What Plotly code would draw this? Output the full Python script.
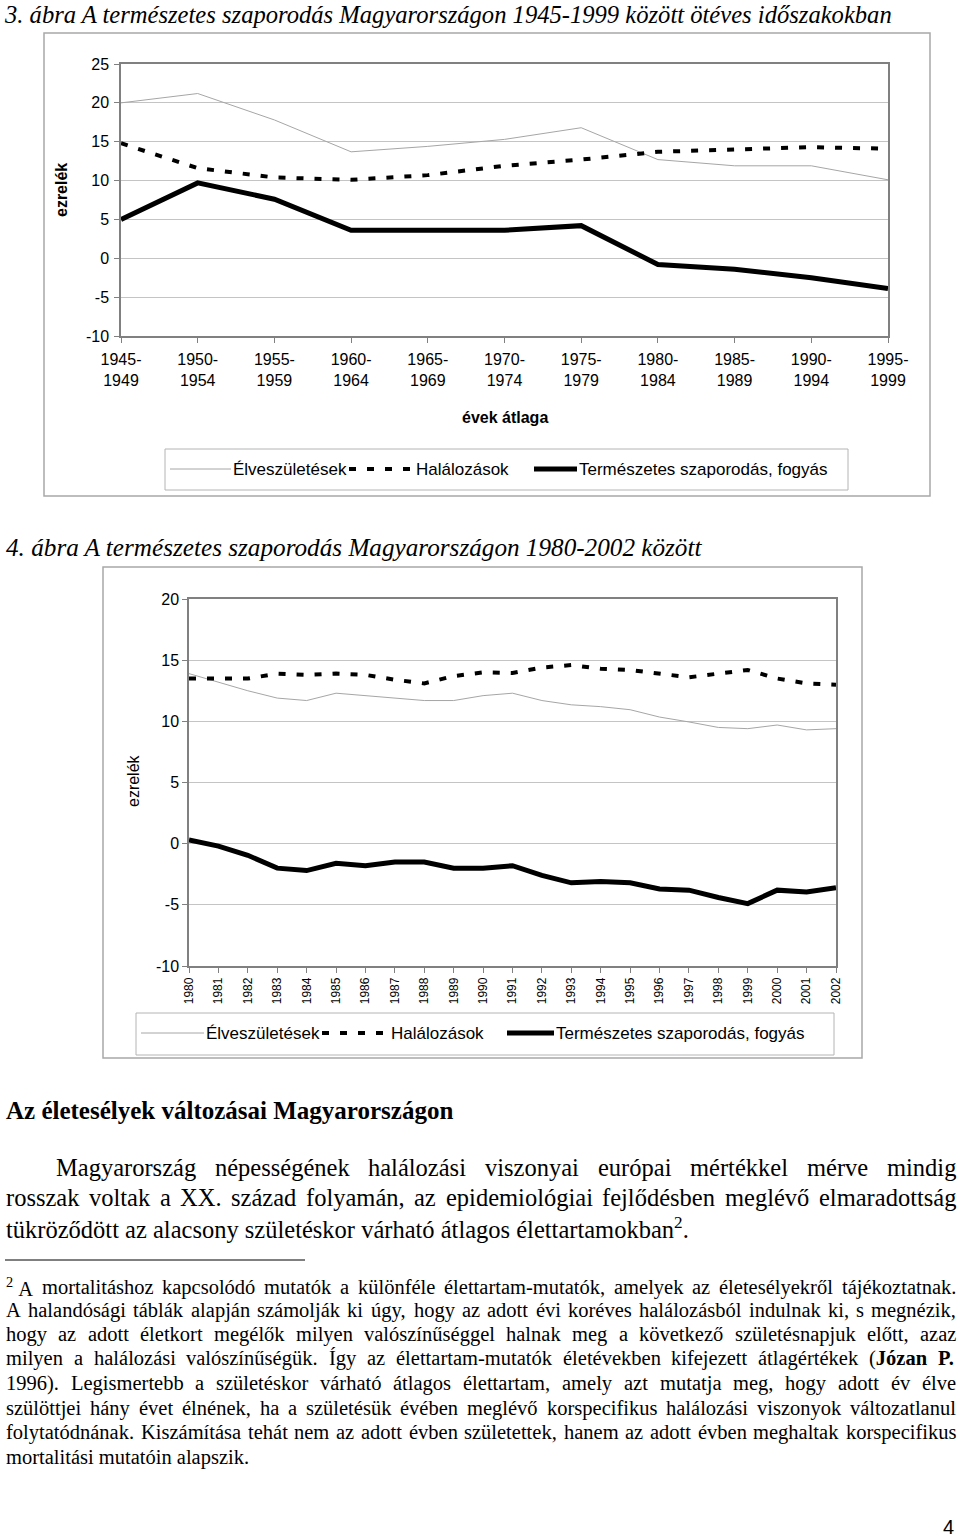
import re
import plotly.graph_objects as go

W, H = 960, 1537


def px(x):
    return x / W


def py(y):
    return 1 - y / H


# ---------------- data: chart 1 (five-year averages) ----------------
periods = ["1945-1949", "1950-1954", "1955-1959", "1960-1964", "1965-1969",
           "1970-1974", "1975-1979", "1980-1984", "1985-1989", "1990-1994",
           "1995-1999"]
births_5y = [20.0, 21.2, 17.8, 13.7, 14.4, 15.3, 16.8, 12.7, 11.9, 11.9, 10.1]
deaths_5y = [14.8, 11.6, 10.4, 10.1, 10.7, 11.9, 12.7, 13.7, 14.0, 14.3, 14.1]
natural_5y = [5.0, 9.7, 7.6, 3.6, 3.6, 3.6, 4.2, -0.8, -1.4, -2.5, -3.9]
yticks1 = [-10, -5, 0, 5, 10, 15, 20, 25]

# ---------------- data: chart 2 (yearly) ----------------
years = [1980, 1981, 1982, 1983, 1984, 1985, 1986, 1987, 1988, 1989, 1990,
         1991, 1992, 1993, 1994, 1995, 1996, 1997, 1998, 1999, 2000, 2001, 2002]
births_y = [13.9, 13.2, 12.5, 11.9, 11.7, 12.3, 12.1, 11.85, 11.7, 11.7, 12.1,
            12.3, 11.7, 11.35, 11.2, 10.95, 10.35, 9.95, 9.5, 9.4, 9.7, 9.3, 9.4]
deaths_y = [13.5, 13.5, 13.5, 13.9, 13.8, 13.9, 13.8, 13.4, 13.1, 13.7, 14.0,
            13.95, 14.4, 14.6, 14.3, 14.2, 13.9, 13.6, 13.9, 14.2, 13.5, 13.1, 13.0]
natural_y = [0.3, -0.2, -0.95, -2.0, -2.2, -1.6, -1.8, -1.5, -1.5, -2.0, -2.0,
             -1.8, -2.6, -3.2, -3.1, -3.2, -3.7, -3.8, -4.4, -4.9, -3.8, -3.95, -3.6]
yticks2 = [-10, -5, 0, 5, 10, 15, 20]

series_names = ["Élveszületések", "Halálozások", "Természetes szaporodás, fogyás"]

title1 = "3. ábra A természetes szaporodás Magyarországon 1945-1999 között ötéves időszakokban"
title2 = "4. ábra A természetes szaporodás Magyarországon 1980-2002 között"
heading = "Az életesélyek változásai Magyarországon"
para_lines = [
    "Magyarország népességének halálozási viszonyai európai mértékkel mérve mindig",
    "rosszak voltak a XX. század folyamán, az epidemiológiai fejlődésben meglévő elmaradottság",
    "tükröződött az alacsony születéskor várható átlagos élettartamokban<sup>2</sup>.",
]
foot_lines = [
    "<sup>2</sup>\u00a0A mortalitáshoz kapcsolódó mutatók a különféle élettartam-mutatók, amelyek az életesélyekről tájékoztatnak.",
    "A halandósági táblák alapján számolják ki úgy, hogy az adott évi koréves halálozásból indulnak ki, s megnézik,",
    "hogy az adott életkort megélők milyen valószínűséggel halnak meg a következő születésnapjuk előtt, azaz",
    "milyen a halálozási valószínűségük. Így az élettartam-mutatók életévekben kifejezett átlagértékek (<b>Józan</b> <b>P.</b>",
    "1996). Legismertebb a születéskor várható átlagos élettartam, amely azt mutatja meg, hogy adott év élve",
    "szülöttjei hány évet élnének, ha a születésük évében meglévő korspecifikus halálozási viszonyok változatlanul",
    "folytatódnának. Kiszámítása tehát nem az adott évben születettek, hanem az adott évben meghaltak korspecifikus",
    "mortalitási mutatóin alapszik.",
]

# ---------------- Times (Liberation Serif) metrics for justification ----------------
TR = dict(a=444, b=500, c=444, d=500, e=444, f=333, g=500, h=500, i=278, j=278, k=500, l=278,
          m=778, n=500, o=500, p=500, q=500, r=333, s=389, t=278, u=500, v=500, w=722, x=500,
          y=500, z=444, A=722, B=667, C=667, D=722, E=611, F=556, G=722, H=722, I=333, J=389,
          K=722, L=611, M=889, N=722, O=722, P=556, Q=722, R=667, S=556, T=611, U=722, V=722,
          W=944, X=722, Y=722, Z=611)
TB = dict(a=500, b=556, c=444, d=556, e=444, f=333, g=500, h=556, i=278, j=333, k=556, l=278,
          m=833, n=556, o=500, p=556, q=556, r=444, s=389, t=333, u=556, v=500, w=722, x=500,
          y=500, z=444, A=722, B=667, C=722, D=722, E=667, F=611, G=778, H=778, I=389, J=500,
          K=778, L=667, M=944, N=722, O=778, P=611, Q=778, R=722, S=556, T=667, U=722, V=722,
          W=1000, X=722, Y=722, Z=667)
PUNCT = {' ': 250, '\u00a0': 250, '.': 250, ',': 250, '-': 333, '(': 333, ')': 333,
         ':': 278, ';': 278}
ACC = str.maketrans('áéíóöőúüűÁÉÍÓÖŐÚÜŰ', 'aeiooouuuAEIOOOUUU')


def char_w(ch, bold):
    c = ch.translate(ACC)
    if c.isdigit():
        return 500
    if c in PUNCT:
        return PUNCT[c]
    return (TB if bold else TR).get(c, 500)


def text_w(markup, size):
    w, bold, sup = 0.0, False, False
    for tok in re.split(r'(<[^>]+>)', markup):
        if tok == '<b>':
            bold = True
        elif tok == '</b>':
            bold = False
        elif tok == '<sup>':
            sup = True
        elif tok == '</sup>':
            sup = False
        else:
            for ch in tok:
                w += char_w(ch, bold) * (0.7 if sup else 1.0)
    return w * size / 1000.0


annotations = []
shapes = []
SERIF = "Liberation Serif, Times New Roman, serif"
SANS = "Liberation Sans, Arial, sans-serif"


def add_text(s, x, y, size, family=SERIF, anchor="left", angle=0):
    annotations.append(dict(text=s, x=px(x), y=py(y), xref="paper", yref="paper",
                            xanchor=anchor, yanchor="middle", showarrow=False,
                            borderpad=0, textangle=angle,
                            font=dict(family=family, size=size, color="black")))


def text_line(s, x0, y, size, justify, x1=955, family=SERIF):
    if not justify:
        add_text(s, x0, y, size, family)
        return
    words = s.split(" ")
    widths = [text_w(wd, size) for wd in words]
    gap = (x1 - x0 - sum(widths)) / (len(words) - 1)
    x = x0
    for wd, ww in zip(words, widths):
        add_text(wd, x, y, size, family)
        x += ww + gap


# ---------------- figure ----------------
fig = go.Figure()
styles = [dict(color="#a6a6a6", width=1),
          dict(color="black", width=4, dash="7px,11px"),
          dict(color="black", width=5)]

for name, vals, st in zip(series_names, [births_5y, deaths_5y, natural_5y], styles):
    fig.add_trace(go.Scatter(x=periods, y=vals, mode="lines", name=name, line=st,
                             xaxis="x", yaxis="y", showlegend=False))
for name, vals, st in zip(series_names, [births_y, deaths_y, natural_y], styles):
    fig.add_trace(go.Scatter(x=years, y=vals, mode="lines", name=name, line=st,
                             xaxis="x2", yaxis="y2", showlegend=False))

axis_common = dict(showline=True, linecolor="#808080", linewidth=1.5, mirror=True,
                   ticks="outside", ticklen=5, tickcolor="#808080", zeroline=False,
                   showgrid=False, fixedrange=True, automargin=False)
yaxis_common = dict(axis_common, showgrid=True, gridcolor="#c4c4c4", gridwidth=1,
                    tickfont=dict(size=16))

fig.update_layout(
    width=W, height=H, margin=dict(l=0, r=0, t=0, b=0, pad=0, autoexpand=False),
    paper_bgcolor="white", plot_bgcolor="white",
    font=dict(family=SANS, size=16, color="black"),
    showlegend=False,
    xaxis=dict(axis_common, type="category", range=[0, len(periods) - 1],
               domain=[px(121), px(888)], anchor="y",
               tickvals=periods,
               ticktext=[p.replace("-", "-<br>") for p in periods],
               tickfont=dict(size=16), ticklabelstandoff=3),
    yaxis=dict(yaxis_common, range=[yticks1[0], yticks1[-1]], domain=[py(336), py(64)],
               anchor="x", tickvals=yticks1, ticktext=[str(v) for v in yticks1],
               ticklabelstandoff=2),
    xaxis2=dict(axis_common, range=[years[0], years[-1]], domain=[px(189), px(836)],
                anchor="y2", tickvals=years, ticktext=[str(v) for v in years],
                tickangle=-90, tickfont=dict(size=12)),
    yaxis2=dict(yaxis_common, range=[yticks2[0], yticks2[-1]], domain=[py(966), py(599)],
                anchor="x2", tickvals=yticks2, ticktext=[str(v) for v in yticks2]),
)

# outer chart frames, footnote rule
shapes += [
    dict(type="rect", xref="paper", yref="paper", x0=px(44), x1=px(930), y0=py(496), y1=py(33),
         line=dict(color="#a8a8a8", width=1.5)),
    dict(type="rect", xref="paper", yref="paper", x0=px(103), x1=px(862), y0=py(1058), y1=py(567),
         line=dict(color="#a8a8a8", width=1.5)),
    dict(type="line", xref="paper", yref="paper", x0=px(5), x1=px(305), y0=py(1260), y1=py(1260),
         line=dict(color="black", width=1)),
]


# legends drawn as a framed row of line samples + labels
def legend_box(box, samples, y):
    x0, x1, y0, y1 = box
    shapes.append(dict(type="rect", xref="paper", yref="paper", x0=px(x0), x1=px(x1),
                       y0=py(y1), y1=py(y0), line=dict(color="#b4b4b4", width=1)))
    for (sx0, sx1), name, st in zip(samples, series_names, styles):
        shapes.append(dict(type="line", xref="paper", yref="paper", x0=px(sx0), x1=px(sx1),
                           y0=py(y), y1=py(y), line=st))
        add_text(name, sx1 + 1, y, 17, SANS)


legend_box((165, 848, 449, 490), [(170, 231), (349, 414), (534, 577)], 469)
legend_box((136, 834, 1013, 1055), [(141, 204), (322, 389), (507, 554)], 1033)

# axis titles
add_text("<b>ezrelék</b>", 62, 190, 16, SANS, "center", -90)
add_text("<b>évek átlaga</b>", 505, 418, 16, SANS, "center")
add_text("ezrelék", 133, 781, 16, SANS, "center", -90)

# page texts
text_line("<i>" + title1 + "</i>", 3, 15, 24.6, False)
text_line("<i>" + title2 + "</i>", 5, 547, 25.2, False)
text_line("<b>" + heading + "</b>", 5, 1110, 25, False)
text_line(para_lines[0], 55, 1167, 24.5, True)
text_line(para_lines[1], 5, 1197, 24.5, True)
text_line(para_lines[2], 5, 1228, 24.5, False)
foot_y = [1287, 1310, 1334, 1358, 1383, 1408, 1432, 1457]
for i, (ln, yy) in enumerate(zip(foot_lines, foot_y)):
    text_line(ln, 5, yy, 20.5, i < len(foot_lines) - 1)
add_text("4", 948, 1527, 20, SANS, "center")

fig.update_layout(annotations=annotations, shapes=shapes)
fig.write_html("out.html")
